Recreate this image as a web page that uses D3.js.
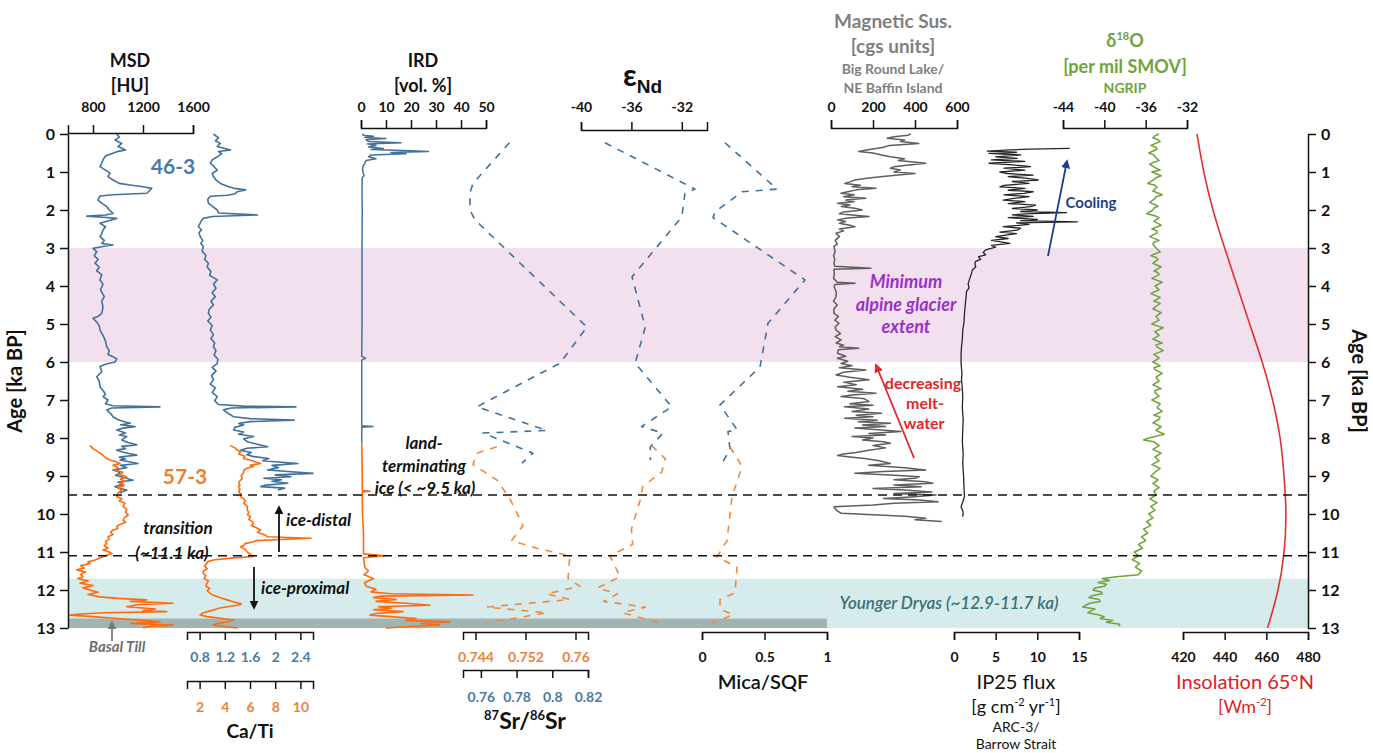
<!DOCTYPE html>
<html>
<head>
<meta charset="utf-8">
<script src="https://cdn.jsdelivr.net/npm/d3@7"></script>
<style>
  body { margin: 0; background: #fff; }
  svg text { font-family: Lato, "Open Sans", sans-serif; }
</style>
</head>
<body>
<div id="chart"></div>
<script>

// ---- data: [age ka BP, value] ----

// MSD [HU], core 46-3 (blue) and 57-3 (orange)
var msd463 = [[0.00,990],[0.08,1010],[0.16,975],[0.25,1030],[0.33,1000],[0.42,1060],[0.45,1010],[0.48,980],[0.58,900],[0.68,880],[0.77,870],[0.86,856],[0.95,900],[1.03,936],[1.12,920],[1.21,960],[1.3,1010],[1.34,1096],[1.39,1200],[1.43,1270],[1.5,1250],[1.56,1230],[1.6,960],[1.63,856],[1.74,840],[1.82,870],[1.91,910],[2.0,930],[2.09,960],[2.13,900],[2.16,750],[2.19,880],[2.22,990],[2.29,920],[2.35,856],[2.44,900],[2.53,880],[2.62,870],[2.7,856],[2.8,890],[2.88,870],[2.92,960],[2.96,880],[3.01,800],[3.1,830],[3.2,810],[3.3,840],[3.4,816],[3.5,850],[3.6,830],[3.7,870],[3.84,856],[3.95,880],[4.1,860],[4.28,890],[4.4,870],[4.55,880],[4.72,870],[4.8,840],[4.85,800],[4.95,830],[5.05,850],[5.16,856],[5.3,880],[5.45,900],[5.6,910],[5.7,930],[5.8,920],[5.86,960],[5.92,990],[6.0,976],[6.06,900],[6.12,856],[6.25,870],[6.39,830],[6.5,850],[6.65,856],[6.75,880],[6.85,900],[6.91,880],[7.0,920],[7.1,900],[7.15,960],[7.18,1336],[7.21,950],[7.26,910],[7.35,940],[7.44,960],[7.52,1000],[7.58,1060],[7.61,1100],[7.65,1020],[7.7,1136],[7.74,1040],[7.79,990],[7.87,1060],[7.92,1010],[7.96,1070],[8.05,1030],[8.12,1080],[8.18,1150],[8.22,1030],[8.28,1060],[8.32,990],[8.38,1050],[8.45,1150],[8.5,1010],[8.55,1060],[8.58,1016],[8.67,1160],[8.72,1020],[8.78,1070],[8.84,960],[8.88,1000],[8.93,1016],[8.98,980],[9.05,1060],[9.11,1120],[9.16,1000],[9.22,1040],[9.28,976],[9.33,1020],[9.37,1070],[9.42,1030],[9.45,1016]];
var msd573 = [[8.2,776],[8.28,800],[8.34,830],[8.4,856],[8.46,880],[8.52,900],[8.58,936],[8.62,980],[8.67,1016],[8.72,960],[8.78,1000],[8.84,976],[8.9,1040],[8.96,1010],[9.02,1070],[9.08,1020],[9.14,1050],[9.19,1016],[9.25,1050],[9.31,1000],[9.37,1030],[9.45,1000],[9.54,990],[9.6,1030],[9.66,1010],[9.72,1056],[9.8,1040],[9.88,1070],[9.95,1060],[10.02,1082],[10.1,1050],[10.16,1042],[10.22,1060],[10.28,1010],[10.33,990],[10.38,1000],[10.42,960],[10.48,940],[10.54,960],[10.6,920],[10.66,930],[10.72,900],[10.77,910],[10.84,890],[10.9,920],[10.95,880],[11.0,930],[11.04,950],[11.1,900],[11.15,860],[11.21,816],[11.26,760],[11.3,776],[11.36,700],[11.42,730],[11.47,670],[11.53,740],[11.59,700],[11.65,720],[11.7,680],[11.76,760],[11.82,696],[11.88,800],[11.94,720],[12.0,776],[12.06,840],[12.12,760],[12.18,856],[12.22,1000],[12.26,1230],[12.3,1100],[12.35,1440],[12.39,1150],[12.44,1070],[12.5,1300],[12.54,1200],[12.57,1390],[12.6,900],[12.63,700],[12.66,616],[12.7,800],[12.75,990],[12.8,1200],[12.84,1336],[12.88,1100],[12.92,1440],[12.96,1250],[13.0,1200]];

// Ca/Ti ratio
var cati463 = [[0.0,1.02],[0.1,1.1],[0.18,1.05],[0.25,1.13],[0.33,1.08],[0.42,1.29],[0.46,1.1],[0.52,1.15],[0.6,1.08],[0.68,1.0],[0.77,0.97],[0.86,1.03],[0.95,1.08],[1.04,1.0],[1.12,1.02],[1.21,1.06],[1.3,1.13],[1.38,1.25],[1.43,1.35],[1.47,1.53],[1.52,1.4],[1.58,1.35],[1.61,1.24],[1.64,0.97],[1.72,0.93],[1.82,0.94],[1.9,1.0],[2.0,1.08],[2.08,1.1],[2.13,1.72],[2.17,1.0],[2.22,0.86],[2.3,0.82],[2.38,0.8],[2.44,0.78],[2.52,0.83],[2.6,0.79],[2.7,0.81],[2.8,0.85],[2.88,0.82],[2.96,0.86],[3.08,0.84],[3.2,0.9],[3.3,0.88],[3.4,0.94],[3.5,0.92],[3.62,0.98],[3.72,0.96],[3.84,1.08],[3.95,1.02],[4.06,1.06],[4.18,1.0],[4.28,1.05],[4.4,0.98],[4.5,1.02],[4.62,0.95],[4.72,0.94],[4.82,0.98],[4.92,0.93],[5.04,1.0],[5.16,0.97],[5.28,1.02],[5.38,0.98],[5.5,1.04],[5.6,1.02],[5.7,1.06],[5.82,1.03],[5.92,1.09],[6.04,1.08],[6.14,1.0],[6.24,1.06],[6.36,0.99],[6.47,1.02],[6.58,0.97],[6.68,1.05],[6.8,1.0],[6.91,1.08],[7.02,1.04],[7.12,1.1],[7.16,1.5],[7.18,2.33],[7.21,1.3],[7.26,1.18],[7.35,1.25],[7.44,1.34],[7.49,1.6],[7.53,2.3],[7.57,1.6],[7.62,1.42],[7.66,1.5],[7.72,1.36],[7.79,1.34],[7.84,1.5],[7.9,1.42],[7.96,1.66],[8.02,1.5],[8.1,1.56],[8.16,1.7],[8.23,1.88],[8.27,1.55],[8.32,1.45],[8.38,1.62],[8.44,1.55],[8.49,1.66],[8.54,1.9],[8.6,1.8],[8.64,2.1],[8.67,2.36],[8.72,1.95],[8.78,2.05],[8.84,1.88],[8.88,2.2],[8.93,2.6],[8.97,2.0],[9.02,2.25],[9.06,1.82],[9.1,2.1],[9.14,1.95],[9.19,2.2],[9.24,1.85],[9.28,1.77],[9.32,2.15],[9.37,2.04]];
var cati573 = [[8.2,4.44],[8.26,4.8],[8.32,5.0],[8.36,5.24],[8.42,5.1],[8.48,5.6],[8.54,5.48],[8.6,6.2],[8.64,6.5],[8.67,6.84],[8.72,6.0],[8.75,6.28],[8.8,5.7],[8.86,5.5],[8.93,5.48],[9.0,5.3],[9.06,5.4],[9.11,5.24],[9.18,5.1],[9.24,5.2],[9.28,5.08],[9.35,5.2],[9.42,5.1],[9.48,5.3],[9.55,5.24],[9.6,5.5],[9.66,5.64],[9.72,5.5],[9.8,5.8],[9.89,5.78],[9.95,5.9],[10.02,5.8],[10.07,6.04],[10.14,5.9],[10.2,6.2],[10.25,6.28],[10.3,6.1],[10.36,6.5],[10.42,6.84],[10.48,6.6],[10.55,7.2],[10.6,7.38],[10.62,9.0],[10.64,10.84],[10.67,8.5],[10.7,6.5],[10.73,6.28],[10.78,5.6],[10.83,5.5],[10.86,5.24],[10.92,5.6],[11.0,5.78],[11.06,6.0],[11.12,6.28],[11.16,4.5],[11.21,3.08],[11.26,2.6],[11.3,2.58],[11.36,2.4],[11.44,2.6],[11.5,2.3],[11.56,2.28],[11.62,2.5],[11.7,2.35],[11.76,2.7],[11.82,2.58],[11.9,2.5],[11.96,2.8],[12.02,2.6],[12.09,2.84],[12.14,3.1],[12.2,3.6],[12.26,4.18],[12.32,4.8],[12.36,5.3],[12.39,5.24],[12.44,4.2],[12.48,3.5],[12.53,3.08],[12.58,2.5],[12.62,2.2],[12.66,2.04],[12.7,2.6],[12.75,3.8],[12.79,4.68],[12.84,4.2],[12.88,3.4],[12.92,3.08],[12.96,4.0],[13.0,4.98]];

// IRD [vol. %]
var ird463 = [[0.0,0.5],[0.03,1.0],[0.06,5.0],[0.09,1.5],[0.12,10.0],[0.15,2.0],[0.2,3.0],[0.23,16.0],[0.26,2.5],[0.3,6.0],[0.34,3.0],[0.38,9.0],[0.41,4.0],[0.44,20.0],[0.46,27.0],[0.49,12.0],[0.52,18.0],[0.55,4.0],[0.6,3.0],[0.65,6.0],[0.7,2.0],[0.77,1.5],[0.85,0.8],[0.95,0.6],[1.1,1.2],[1.15,0.5],[1.5,0.4],[2.0,0.5],[3.0,0.4],[4.0,0.4],[5.0,0.4],[5.85,0.3],[5.9,1.8],[5.95,0.3],[6.5,0.3],[7.68,0.3],[7.7,4.8],[7.72,0.3],[8.14,0.3]];
var ird573 = [[8.14,0.3],[8.5,0.4],[9.0,0.5],[9.38,0.5],[9.4,3.6],[9.42,0.5],[10.0,0.6],[10.5,1.0],[11.05,1.0],[11.1,9.6],[11.15,1.0],[11.4,1.5],[11.5,3.0],[11.6,1.2],[11.7,5.0],[11.8,1.5],[11.9,2.0],[11.98,6.0],[12.05,4.0],[12.1,12.0],[12.13,44.8],[12.16,8.0],[12.2,5.0],[12.25,14.0],[12.3,6.0],[12.35,18.0],[12.4,27.6],[12.44,7.0],[12.48,12.0],[12.52,5.0],[12.57,16.8],[12.62,6.0],[12.66,3.6],[12.7,12.0],[12.75,22.0],[12.8,18.0],[12.84,35.6],[12.88,24.0],[12.92,31.6],[12.96,20.0],[13.0,10.0]];

// 87Sr/86Sr
var sr463 = [[0.23,0.776],[1.3,0.7556],[1.55,0.7539],[2.0,0.7539],[2.26,0.7567],[5.08,0.8194],[6.03,0.8043],[7.18,0.7578],[7.8,0.797],[7.87,0.7612],[8.4,0.7892],[8.66,0.783]];
var sr573 = [[8.23,0.7474],[8.4,0.7442],[8.7,0.7436],[9.1,0.7474],[9.6,0.7495],[10.3,0.7516],[10.7,0.7498],[10.9,0.7538],[11.1,0.7591],[11.7,0.7588],[11.9,0.7607],[12.1,0.7554],[12.25,0.7591],[12.45,0.7458],[12.6,0.7554],[12.87,0.7458]];

// eNd
var end463 = [[0.23,-38.1],[1.45,-30.95],[1.56,-31.75],[2.18,-32.0],[3.76,-35.95],[5.08,-34.9],[6.03,-35.7],[7.18,-32.8],[7.7,-35.2],[7.87,-33.5],[8.23,-34.5],[8.58,-34.5]];
var end573 = [[8.2,-34.4],[8.55,-33.3],[8.9,-33.6],[9.28,-35.1],[9.63,-35.3],[10.4,-36.0],[10.8,-35.9],[11.1,-37.7],[11.65,-36.9],[11.95,-38.7],[12.1,-37.1],[12.3,-38.2],[12.45,-34.9],[12.6,-36.7],[12.87,-33.7]];

// Mica/SQF
var mica463 = [[0.23,0.184],[1.45,0.6],[1.52,0.32],[2.05,0.104],[2.2,0.088],[3.84,0.824],[4.98,0.528],[6.13,0.464],[7.13,0.144],[7.78,0.28],[7.83,0.208],[8.3,0.224],[8.62,0.168]];
var mica573 = [[8.23,0.224],[8.75,0.32],[9.55,0.24],[10.7,0.2],[11.13,0.12],[11.4,0.28],[12.08,0.264],[12.25,0.144],[12.5,0.144],[12.65,0.248],[12.87,0.08]];

// Magnetic susceptibility, Big Round Lake [cgs units]
var magSus = [[0.0,380],[0.03,367],[0.07,300],[0.11,267],[0.16,350],[0.2,330],[0.25,418],[0.3,280],[0.35,250],[0.38,214],[0.42,170],[0.46,132],[0.5,200],[0.55,240],[0.6,283],[0.65,350],[0.7,320],[0.77,451],[0.82,360],[0.86,300],[0.9,283],[0.95,330],[1.0,300],[1.04,400],[1.08,320],[1.12,248],[1.16,180],[1.21,114],[1.26,90],[1.3,65],[1.35,140],[1.39,100],[1.43,214],[1.47,120],[1.52,80],[1.56,48],[1.6,110],[1.65,60],[1.69,166],[1.74,70],[1.78,110],[1.82,31],[1.87,90],[1.91,50],[1.96,120],[2.0,148],[2.05,60],[2.1,40],[2.13,100],[2.17,181],[2.21,80],[2.26,31],[2.3,70],[2.35,40],[2.4,90],[2.44,114],[2.5,40],[2.55,60],[2.61,24],[2.7,40],[2.8,20],[2.9,30],[2.96,14],[3.1,20],[3.2,12],[3.3,18],[3.4,14],[3.48,18],[3.53,190],[3.56,14],[3.7,16],[3.8,12],[3.9,30],[3.93,114],[3.96,20],[4.02,14],[4.15,25],[4.28,24],[4.4,12],[4.5,30],[4.6,14],[4.72,14],[4.8,35],[4.9,18],[4.98,38],[5.08,20],[5.16,24],[5.25,45],[5.33,20],[5.42,48],[5.5,25],[5.56,60],[5.6,40],[5.64,132],[5.68,35],[5.77,31],[5.85,70],[5.9,30],[5.98,80],[6.04,48],[6.1,100],[6.15,40],[6.21,166],[6.27,60],[6.34,24],[6.4,90],[6.47,181],[6.53,60],[6.6,120],[6.65,31],[6.72,150],[6.77,80],[6.82,214],[6.87,100],[6.91,48],[6.97,160],[7.04,181],[7.1,90],[7.14,200],[7.18,65],[7.24,180],[7.3,100],[7.35,241],[7.4,120],[7.44,200],[7.48,65],[7.53,220],[7.57,130],[7.61,283],[7.66,150],[7.7,260],[7.74,114],[7.79,240],[7.83,333],[7.88,180],[7.92,260],[7.96,100],[8.0,200],[8.05,150],[8.1,250],[8.14,283],[8.2,200],[8.26,260],[8.32,181],[8.38,120],[8.42,60],[8.46,31],[8.5,90],[8.54,160],[8.6,230],[8.67,283],[8.72,180],[8.78,350],[8.84,451],[8.88,250],[8.93,114],[8.98,300],[9.02,420],[9.06,400],[9.1,300],[9.15,450],[9.19,485],[9.24,300],[9.28,430],[9.33,200],[9.37,350],[9.42,480],[9.46,300],[9.5,500],[9.55,380],[9.59,250],[9.63,420],[9.68,510],[9.72,300],[9.76,200],[9.81,14],[9.86,20],[9.92,30],[9.98,48],[10.02,200],[10.06,350],[10.11,451],[10.15,400],[10.2,527]];

// IP25 flux, ARC-3 Barrow Strait
var ip25 = [[0.38,13.9],[0.4,9.0],[0.42,6.7],[0.45,4.0],[0.48,7.5],[0.51,4.2],[0.55,8.0],[0.6,5.0],[0.64,7.6],[0.68,4.5],[0.72,8.5],[0.77,4.2],[0.81,7.0],[0.86,9.2],[0.9,6.0],[0.95,8.5],[1.0,5.5],[1.04,6.4],[1.08,9.5],[1.12,6.5],[1.17,8.8],[1.21,10.1],[1.25,7.0],[1.3,9.0],[1.35,6.0],[1.39,5.5],[1.43,8.5],[1.48,6.5],[1.52,9.5],[1.56,8.4],[1.6,6.0],[1.65,9.0],[1.7,7.0],[1.74,5.9],[1.78,8.5],[1.83,6.5],[1.87,9.8],[1.91,9.2],[1.96,7.0],[2.0,10.0],[2.04,8.0],[2.07,13.5],[2.1,8.5],[2.13,7.0],[2.17,9.5],[2.2,6.5],[2.25,10.0],[2.28,8.0],[2.31,14.8],[2.34,7.5],[2.38,9.0],[2.44,5.9],[2.48,8.0],[2.53,7.6],[2.58,5.5],[2.62,7.5],[2.7,5.0],[2.75,6.5],[2.8,4.5],[2.88,6.7],[2.93,4.5],[2.98,5.0],[3.05,3.8],[3.12,3.5],[3.18,3.8],[3.23,2.95],[3.3,3.2],[3.35,2.6],[3.4,2.5],[3.5,2.6],[3.58,2.2],[3.67,2.1],[3.8,1.9],[3.93,1.7],[4.05,1.8],[4.15,1.5],[4.28,1.45],[4.5,1.35],[4.72,1.26],[4.95,1.2],[5.16,1.05],[5.4,1.0],[5.6,0.9],[5.8,0.85],[6.04,0.85],[6.3,0.95],[6.47,0.9],[6.7,1.0],[6.91,1.05],[7.2,1.0],[7.5,1.1],[7.79,1.05],[8.1,1.0],[8.4,1.1],[8.67,1.05],[9.0,1.15],[9.3,1.2],[9.54,1.26],[9.65,1.1],[9.81,0.85],[9.95,1.1],[10.07,1.05]];

// d18O NGRIP [per mil SMOW]
var d18o = [[0.0,-34.7],[0.05,-35.1],[0.1,-35.3],[0.15,-34.8],[0.2,-34.6],[0.3,-35.5],[0.35,-35.0],[0.4,-34.9],[0.5,-35.7],[0.55,-35.2],[0.6,-35.1],[0.7,-34.7],[0.75,-35.3],[0.8,-35.6],[0.9,-35.0],[0.95,-34.6],[1.0,-35.4],[1.1,-34.5],[1.15,-35.0],[1.2,-35.2],[1.3,-35.8],[1.35,-35.1],[1.4,-34.9],[1.5,-35.3],[1.6,-34.4],[1.65,-35.0],[1.7,-35.1],[1.8,-35.6],[1.9,-34.8],[1.95,-35.2],[2.0,-35.3],[2.1,-35.9],[2.15,-35.1],[2.2,-34.7],[2.3,-35.2],[2.4,-34.5],[2.5,-35.4],[2.55,-34.9],[2.6,-34.9],[2.7,-35.6],[2.8,-34.7],[2.85,-35.2],[2.9,-35.3],[3.0,-35.0],[3.1,-34.6],[3.2,-35.5],[3.25,-35.0],[3.3,-34.8],[3.4,-35.3],[3.5,-34.5],[3.6,-35.2],[3.65,-34.8],[3.7,-34.7],[3.8,-35.4],[3.9,-34.4],[4.0,-35.1],[4.05,-34.9],[4.1,-34.7],[4.2,-35.5],[4.3,-34.6],[4.4,-35.2],[4.45,-34.6],[4.5,-34.8],[4.6,-35.3],[4.7,-34.5],[4.8,-35.0],[4.9,-34.7],[5.0,-35.4],[5.05,-34.9],[5.1,-34.3],[5.2,-35.1],[5.3,-34.7],[5.4,-35.3],[5.5,-34.4],[5.55,-35.0],[5.6,-34.9],[5.7,-34.3],[5.8,-35.2],[5.9,-34.7],[6.0,-35.3],[6.1,-34.6],[6.15,-35.2],[6.2,-35.1],[6.3,-34.4],[6.4,-35.0],[6.5,-34.7],[6.6,-35.3],[6.7,-34.5],[6.75,-35.1],[6.8,-35.1],[6.9,-34.7],[7.0,-35.4],[7.1,-34.6],[7.2,-34.9],[7.3,-34.4],[7.4,-35.2],[7.45,-34.6],[7.5,-34.7],[7.6,-35.3],[7.7,-34.5],[7.8,-35.0],[7.9,-34.2],[8.0,-35.7],[8.05,-36.2],[8.1,-35.2],[8.2,-34.7],[8.3,-35.3],[8.4,-34.5],[8.5,-35.1],[8.6,-34.7],[8.7,-35.4],[8.8,-34.6],[8.9,-35.1],[9.0,-35.5],[9.1,-34.8],[9.2,-35.3],[9.3,-34.7],[9.4,-35.2],[9.5,-35.0],[9.6,-35.6],[9.7,-34.9],[9.8,-35.5],[9.9,-35.1],[10.0,-35.7],[10.1,-35.3],[10.2,-35.9],[10.3,-35.5],[10.4,-36.2],[10.5,-35.8],[10.6,-36.4],[10.7,-36.0],[10.8,-36.7],[10.9,-36.3],[11.0,-37.1],[11.1,-36.7],[11.2,-37.3],[11.3,-36.6],[11.4,-37.0],[11.5,-36.4],[11.6,-36.7],[11.65,-38.8],[11.7,-40.2],[11.75,-39.5],[11.8,-40.6],[11.85,-39.8],[11.9,-40.0],[11.95,-40.9],[12.0,-41.1],[12.05,-40.3],[12.1,-40.2],[12.15,-41.2],[12.2,-41.5],[12.25,-40.5],[12.3,-40.4],[12.35,-41.4],[12.4,-41.8],[12.45,-42.1],[12.5,-40.9],[12.55,-41.3],[12.6,-41.6],[12.65,-40.6],[12.7,-40.0],[12.75,-40.4],[12.8,-39.2],[12.85,-39.8],[12.9,-38.5],[12.95,-38.6]];

// Summer insolation 65N [W m-2]
var insolation = [[0,426.7],[1,430],[2,434.4],[3,440],[4,446],[5,452],[6,458],[7,463],[8,466.6],[9,468.5],[10,469.4],[11,468.5],[12,465.6],[13,460.6]];

// Age tick labels and shaded intervals
var ageLabels  = [0,1,2,3,4,5,6,7,8,9,10,11,12,13];
var pinkBand   = [3, 6];        // minimum alpine glacier extent
var ydBand     = [11.7, 13];    // Younger Dryas
var tillBand   = [12.75, 13];   // basal till
var boundaries = [9.5, 11.1];   // dashed lines

// ---- drawing ----

var BLUE   = "#41719c";
var ORANGE = "#ff6a0a";
var ORDASH = "#ee8a40";
var ORTXT  = "#e8843a";
var BLTXT  = "#4a7aa8";

var svg = d3.select("#chart").append("svg")
  .attr("width",  1373)
  .attr("height", 753);

var y = d3.scaleLinear().domain([0, 13]).range([134, 628]);

var xMsd      = d3.scaleLinear().domain([600, 1600]).range([68, 193]);
var xCaBlue   = d3.scaleLinear().domain([0.6, 2.6]) .range([187, 313]);
var xCaOrange = d3.scaleLinear().domain([1, 11])    .range([187, 313]);
var xIrd      = d3.scaleLinear().domain([0, 50])    .range([361, 486]);
var xSrOrange = d3.scaleLinear().domain([0.742, 0.762]).range([463, 588]);
var xSrBlue   = d3.scaleLinear().domain([0.75, 0.82]).range([463, 588]);
var xEnd      = d3.scaleLinear().domain([-40, -30]) .range([581, 707]);
var xMica     = d3.scaleLinear().domain([0, 1])     .range([702, 827]);
var xMag      = d3.scaleLinear().domain([0, 600])   .range([831, 957]);
var xIp       = d3.scaleLinear().domain([0, 15])    .range([954, 1079]);
var xO        = d3.scaleLinear().domain([-44, -32]) .range([1063, 1187]);
var xIns      = d3.scaleLinear().domain([420, 480]) .range([1183, 1308]);

var X0 = 68, X1 = 1308;

// shaded bands
function band(r, x1, fill) {
  svg.append("rect")
    .attr("x",      X0)
    .attr("y",      y(r[0]))
    .attr("width",  x1 - X0)
    .attr("height", y(r[1]) - y(r[0]))
    .attr("fill",   fill);
}
band(pinkBand, X1,  "#f3e0ef");
band(ydBand,   X1,  "#d6ecec");
band(tillBand, xMica(1), "#a2b3b3");

// arrow heads
var defs = svg.append("defs");
[["black", "#111"], ["red", "#e02828"], ["blue", "#1f3f8a"], ["grey", "#7a7a7a"]].forEach(function(m) {
  defs.append("marker")
    .attr("id",           "arr-" + m[0])
    .attr("viewBox",      "0 0 10 10")
    .attr("refX",         8)
    .attr("refY",         5)
    .attr("markerWidth",  5)
    .attr("markerHeight", 5)
    .attr("orient",       "auto")
    .append("path")
    .attr("d",    "M0,0 L10,5 L0,10 z")
    .attr("fill", m[1]);
});

// draws one series against the age axis
function series(data, sx, colour, width, dash, curve) {
  var line = d3.line()
    .x(function(d) { return sx(d[1]); })
    .y(function(d) { return y(d[0]); })
    .curve(curve || d3.curveLinear);
  svg.append("path")
    .datum(data)
    .attr("d",                line)
    .attr("fill",             "none")
    .attr("stroke",           colour)
    .attr("stroke-width",     width)
    .attr("stroke-linejoin",  "round")
    .attr("stroke-dasharray", dash || null);
}

series(msd463,  xMsd,      BLUE,   1.6);
series(msd573,  xMsd,      ORANGE, 1.6);
series(cati463, xCaBlue,   BLUE,   1.6);
series(cati573, xCaOrange, ORANGE, 1.6);
series(ird463,  xIrd,      BLUE,   1.5);
series(ird573,  xIrd,      ORANGE, 1.6);
series(sr463,   xSrBlue,   BLUE,   1.6, "7,7");
series(sr573,   xSrOrange, ORDASH, 1.6, "7,7");
series(end463,  xEnd,      BLUE,   1.6, "7,7");
series(end573,  xEnd,      ORDASH, 1.6, "7,7");
series(mica463, xMica,     BLUE,   1.6, "7,7");
series(mica573, xMica,     ORDASH, 1.6, "7,7");
series(magSus,  xMag,      "#5e5e5e", 1.5);
series(ip25,    xIp,       "#262626", 1.3);
series(d18o,    xO,        "#6ea33c", 1.5);
series(insolation, xIns,   "#e0312f", 1.6, null, d3.curveNatural);

// dashed age boundaries
boundaries.forEach(function(a) {
  svg.append("line")
    .attr("x1", X0).attr("x2", X1)
    .attr("y1", y(a)).attr("y2", y(a))
    .attr("stroke",           "#111")
    .attr("stroke-width",     1.5)
    .attr("stroke-dasharray", "9,6");
});

// ---- axes ----
function fmt(d) { return String(+d.toFixed(4)); }

function valueAxis(orient, scale, pos, minors, majors, pad, labelColour) {
  var make = orient === "top" ? d3.axisTop : d3.axisBottom;
  var g = svg.append("g").attr("transform", "translate(0," + pos + ")");
  g.call(make(scale).tickValues(minors).tickSize(4).tickSizeOuter(8).tickFormat(""));
  g.call(make(scale).tickValues(majors).tickSize(8).tickSizeOuter(8)
    .tickPadding(pad).tickFormat(fmt));
  g.attr("font-family", "Lato, sans-serif")
   .attr("font-size",   14)
   .attr("font-weight", "bold");
  g.selectAll("path, line").attr("stroke", "#111").attr("stroke-width", 1.5);
  g.selectAll("text").attr("fill", labelColour || "#111");
}

function steps(a, b, s) { return d3.range(a, b + s / 2, s); }

valueAxis("top", xMsd, 133, steps(600, 1600, 200), [800, 1200, 1600], 13);
valueAxis("top", xIrd, 128, steps(0, 50, 5),        [0, 10, 20, 30, 40, 50], 8);
valueAxis("top", xEnd, 130, steps(-40, -30, 2),     [-40, -36, -32], 10);
valueAxis("top", xMag, 128, steps(0, 600, 100),     [0, 200, 400, 600], 8);
valueAxis("top", xO,   128, steps(-44, -32, 2),     [-44, -40, -36, -32], 8);

valueAxis("bottom", xCaBlue,   632, steps(0.6, 2.6, 0.2),   [0.8, 1.2, 1.6, 2, 2.4], 12, BLTXT);
valueAxis("bottom", xCaOrange, 681, steps(1, 11, 1),        [2, 4, 6, 8, 10], 13, ORTXT);
valueAxis("bottom", xSrOrange, 632, steps(0.742, 0.762, 0.002), [0.744, 0.752, 0.76], 12, ORTXT);
valueAxis("bottom", xSrBlue,   670, steps(0.75, 0.82, 0.005),   [0.76, 0.78, 0.8, 0.82], 14, BLTXT);
valueAxis("bottom", xMica,     632, steps(0, 1, 0.25),      [0, 0.5, 1], 12);
valueAxis("bottom", xIp,       632, steps(0, 15, 2.5),      [0, 5, 10, 15], 12);
valueAxis("bottom", xIns,      632, steps(420, 480, 10),    [420, 440, 460, 480], 12);

// age axes, left and right
function ageAxis(side, xpos) {
  var make = side === "left" ? d3.axisLeft : d3.axisRight;
  var g = svg.append("g").attr("transform", "translate(" + xpos + ",0)");
  g.call(make(y).tickValues(steps(0, 13, 0.2)).tickSize(-5).tickSizeOuter(0).tickFormat(""));
  g.call(make(y).tickValues(ageLabels).tickSize(8).tickSizeOuter(0).tickPadding(5).tickFormat(fmt));
  g.attr("font-family", "Lato, sans-serif")
   .attr("font-size",   16)
   .attr("font-weight", "bold");
  g.selectAll("path, line").attr("stroke", "#111").attr("stroke-width", 1.5);
  g.selectAll("text").attr("fill", "#111");
}
ageAxis("left",  X0);
ageAxis("right", X1);

// ---- text ----
function label(x, yy, str, o) {
  o = o || {};
  var t = svg.append("text")
    .attr("x",           x)
    .attr("y",           yy)
    .attr("text-anchor", o.anchor || "middle")
    .attr("font-size",   o.size || 18)
    .attr("font-weight", o.weight || "bold")
    .attr("font-style",  o.italic ? "italic" : null)
    .attr("fill",        o.fill || "#111")
    .text(str);
  if (o.rotate) t.attr("transform", "rotate(" + o.rotate + "," + x + "," + yy + ")");
  return t;
}

label(22,   381, "Age [ka BP]", {size: 20, rotate: -90});
label(1352, 381, "Age [ka BP]", {size: 20, rotate: 90});

label(130, 67, "MSD");
label(130, 92, "[HU]");
label(423, 67, "IRD");
label(423, 92, "[vol. %]");

var eps = svg.append("text")
  .attr("x", 623).attr("y", 86)
  .attr("font-family", "'DejaVu Sans', sans-serif")
  .attr("font-weight", "bold")
  .attr("font-size", 30)
  .attr("fill", "#111")
  .text("\u03b5");
eps.append("tspan")
  .attr("font-size", 19)
  .attr("dy", 7)
  .attr("font-family", "'Liberation Sans', Arial, sans-serif")
  .text("Nd");

label(893, 28, "Magnetic Sus.",    {fill: "#7f7f7f", size: 19});
label(893, 53, "[cgs units]",      {fill: "#7f7f7f", size: 19});
label(893, 74, "Big Round Lake/",  {fill: "#7f7f7f", size: 14});
label(893, 93, "NE Baffin Island", {fill: "#7f7f7f", size: 14});

var dO = label(1125, 47, "\u03b4", {fill: "#70a33c"});
dO.append("tspan").attr("font-size", 11).attr("dy", -7).text("18");
dO.append("tspan").attr("dy", 7).text("O");
label(1125, 73, "[per mil SMOV]", {fill: "#70a33c"});
label(1125, 93, "NGRIP",          {fill: "#70a33c", size: 14});

label(250, 738, "Ca/Ti", {size: 19});

var sr = svg.append("text")
  .attr("x", 525).attr("y", 729)
  .attr("text-anchor", "middle")
  .attr("font-family", "'Liberation Sans', Arial, sans-serif")
  .attr("font-weight", "bold")
  .attr("font-size", 23)
  .attr("fill", "#111");
sr.append("tspan").attr("font-size", 13).attr("dy", -9).text("87");
sr.append("tspan").attr("dy", 9).text("Sr/");
sr.append("tspan").attr("font-size", 13).attr("dy", -9).text("86");
sr.append("tspan").attr("dy", 9).text("Sr");

label(763, 689, "Mica/SQF", {weight: 600, size: 20});

label(1016, 689, "IP25 flux", {weight: "normal", size: 20});
var gcm = label(1016, 713, "[g cm", {weight: "normal", size: 18});
gcm.append("tspan").attr("font-size", 11).attr("dy", -7).text("-2");
gcm.append("tspan").attr("dy", 7).text(" yr");
gcm.append("tspan").attr("font-size", 11).attr("dy", -7).text("-1");
gcm.append("tspan").attr("dy", 7).text("]");
label(1016, 732, "ARC-3/",        {weight: "normal", size: 14});
label(1016, 749, "Barrow Strait", {weight: "normal", size: 14});

label(1245, 689, "Insolation 65\u00b0N", {weight: "normal", size: 20, fill: "#e02020"});
var wm = label(1245, 713, "[Wm", {weight: "normal", size: 18, fill: "#e02020"});
wm.append("tspan").attr("font-size", 11).attr("dy", -7).text("-2");
wm.append("tspan").attr("dy", 7).text("]");

// annotations
label(173, 174, "46-3", {size: 21, fill: BLTXT});
label(185, 484, "57-3", {size: 21, fill: "#f07f2a"});

label(178, 534, "transition",  {size: 17, italic: true});
label(172, 559, "(~11.1 ka)",  {size: 17, italic: true});
label(286, 526, "ice-distal",  {size: 17, italic: true, anchor: "start"});
label(261, 594, "ice-proximal", {size: 17, italic: true, anchor: "start"});

label(424, 449, "land-",            {size: 17, italic: true});
label(424, 472, "terminating",      {size: 17, italic: true});
label(425, 494, "ice (< ~9.5 ka)",  {size: 17, italic: true});

label(117, 652, "Basal Till", {size: 15, italic: true, fill: "#6e6e6e"});

label(906, 288, "Minimum",        {size: 18, italic: true, fill: "#9a32c8"});
label(906, 311, "alpine glacier", {size: 18, italic: true, fill: "#9a32c8"});
label(906, 333, "extent",         {size: 18, italic: true, fill: "#9a32c8"});

label(923, 389, "decreasing", {size: 16, fill: "#e02828"});
label(925, 409, "melt-",      {size: 16, fill: "#e02828"});
label(924, 429, "water",      {size: 16, fill: "#e02828"});

label(1091, 208, "Cooling", {size: 15, fill: "#1f3f8a"});

label(949, 609, "Younger Dryas (~12.9-11.7 ka)", {size: 17, italic: true, weight: 600, fill: "#3b7174"});

function arrow(x1, y1, x2, y2, colour, id) {
  svg.append("line")
    .attr("x1", x1).attr("y1", y1)
    .attr("x2", x2).attr("y2", y2)
    .attr("stroke",       colour)
    .attr("stroke-width", 1.8)
    .attr("marker-end",   "url(#arr-" + id + ")");
}
arrow(279, 552, 279, 507, "#111", "black");
arrow(254, 567, 254, 608, "#111", "black");
arrow(914, 458, 876, 365, "#e02828", "red");
arrow(1048, 256, 1067, 161, "#1f3f8a", "blue");
arrow(112, 641, 112, 622, "#7a7a7a", "grey");

</script>
</body>
</html>
